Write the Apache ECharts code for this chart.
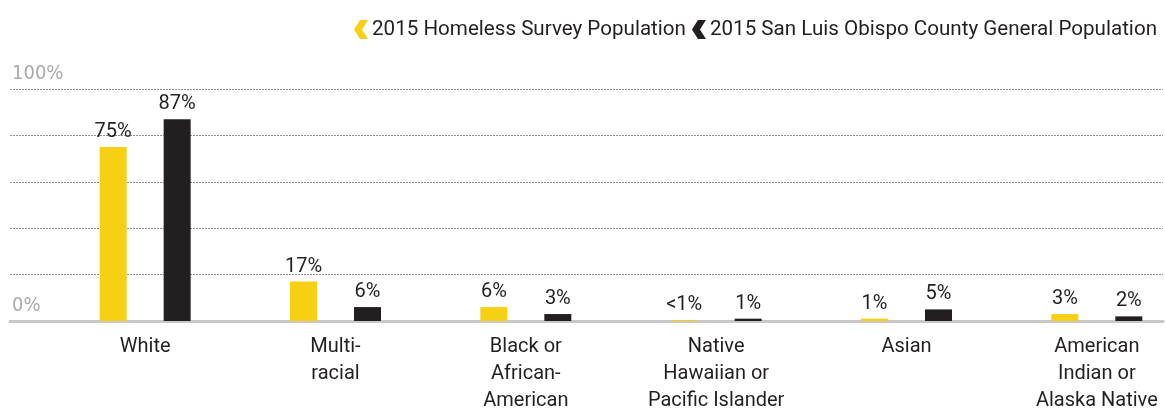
<!DOCTYPE html>
<html>
<head>
<meta charset="utf-8">
<script src="https://cdn.jsdelivr.net/npm/echarts@6/dist/echarts.min.js"></script>
<style>html,body{margin:0;padding:0;background:#fff;overflow:hidden;width:1165px;height:414px}#c{width:1192px;height:414px}</style>
</head>
<body>
<div id="c"></div>
<script>
var categories = ['White', 'Multi-\nracial', 'Black or\nAfrican-\nAmerican', 'Native\nHawaiian or\nPacific Islander', 'Asian', 'American\nIndian or\nAlaska Native'];
var seriesNames = ['2015 Homeless Survey Population', '2015 San Luis Obispo County General Population'];
var homelessValues = [75, 17, 6, 0.4, 1, 3];
var homelessLabels = ['75%', '17%', '6%', '<1%', '1%', '3%'];
var countyValues = [87, 6, 3, 1, 5, 2];
var countyLabels = ['87%', '6%', '3%', '1%', '5%', '2%'];
var yTickLabels = {0: '0%', 100: '100%'};

var FONT = 'Roboto, "Noto Sans", sans-serif';
var NARROW = '"DejaVu Sans Condensed", "Liberation Sans Narrow", Roboto, sans-serif';
var YELLOW = '#F7CF14';
var BLACK = '#231F20';
var chevron = 'path://M6,0 L14,0 L8,9.5 L14,19 L6,19 L0,9.5 Z';

var chart = echarts.init(document.getElementById('c'));
chart.setOption({
  animation: false,
  legend: {
    data: [
      {name: seriesNames[0], icon: chevron},
      {name: seriesNames[1], icon: chevron}
    ],
    right: 30,
    top: 14,
    itemWidth: 14,
    itemHeight: 19,
    itemGap: 6,
    textStyle: {fontFamily: FONT, fontSize: 20.6, color: BLACK, padding: [0, 0, 0, -1]}
  },
  grid: [
    {left: 10, right: 29, top: 89, bottom: 93},
    {left: 50, right: 0, top: 89, bottom: 93}
  ],
  xAxis: [
    {
      gridIndex: 0, type: 'value', min: 0, max: 1,
      axisLine: {show: true, lineStyle: {color: '#C8C8C8', width: 3}},
      axisTick: {show: false}, axisLabel: {show: false}, splitLine: {show: false}
    },
    {
      gridIndex: 1, type: 'category', data: categories,
      axisLine: {show: false}, axisTick: {show: false},
      axisLabel: {fontFamily: FONT, fontSize: 20, color: BLACK, lineHeight: 27, margin: 12, interval: 0}
    }
  ],
  yAxis: [
    {
      gridIndex: 0, type: 'value', min: 0, max: 100, interval: 20,
      axisLine: {show: false}, axisTick: {show: false},
      axisLabel: {
        inside: true, margin: 2, align: 'left', verticalAlign: 'bottom',
        padding: [0, 0, 5, 0],
        fontFamily: NARROW, fontSize: 20, color: '#A7A9AC',
        formatter: function (v) { return yTickLabels[v] || ''; }
      },
      splitLine: {lineStyle: {color: '#8F8F8F', type: [2, 1], width: 1}}
    },
    {gridIndex: 1, type: 'value', min: 0, max: 100, show: false}
  ],
  series: [
    {
      name: seriesNames[0], type: 'bar', xAxisIndex: 1, yAxisIndex: 1,
      data: homelessValues, barWidth: 27, barGap: '137%',
      itemStyle: {color: YELLOW},
      label: {show: true, position: 'top', distance: 5, fontFamily: FONT, fontSize: 20, color: BLACK,
        formatter: function (p) { return homelessLabels[p.dataIndex]; }}
    },
    {
      name: seriesNames[1], type: 'bar', xAxisIndex: 1, yAxisIndex: 1,
      data: countyValues, barWidth: 27, barGap: '137%',
      itemStyle: {color: BLACK},
      label: {show: true, position: 'top', distance: 5, fontFamily: FONT, fontSize: 20, color: BLACK,
        formatter: function (p) { return countyLabels[p.dataIndex]; }}
    }
  ]
});
</script>
</body>
</html>
